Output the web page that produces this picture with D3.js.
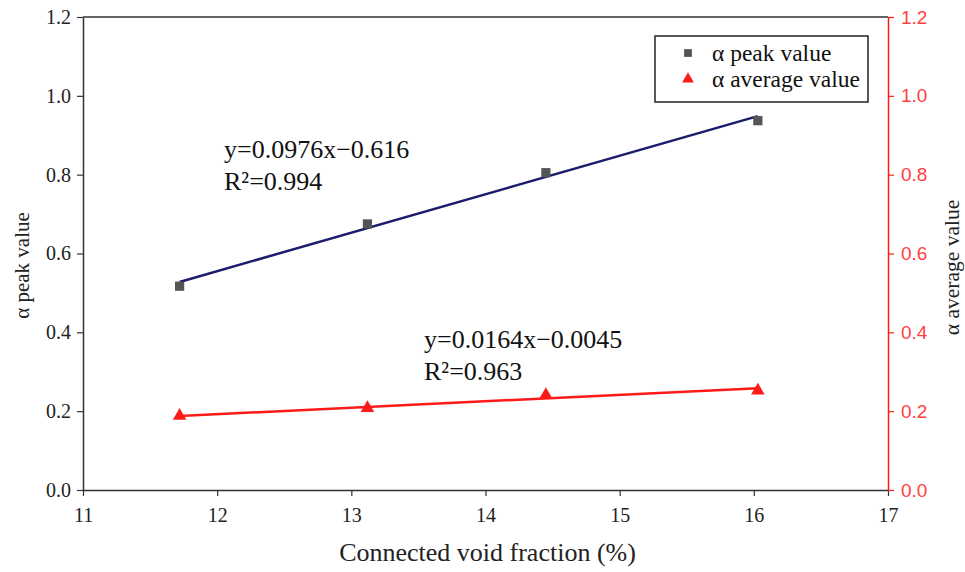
<!DOCTYPE html>
<html>
<head>
<meta charset="utf-8">
<script src="https://cdn.jsdelivr.net/npm/d3@7"></script>
<style>
  body { margin: 0; background: #fff; }
  text { font-family: "Liberation Serif", "DejaVu Serif", serif; }
</style>
</head>
<body>
<svg id="chart" width="965" height="572"></svg>
<script>
// data
const voidFraction = [11.72, 13.12, 14.45, 16.03];
const peakValues = [0.517, 0.675, 0.805, 0.937];
const averageValues = [0.188, 0.208, 0.241, 0.252];
const xTicks = [11, 12, 13, 14, 15, 16, 17];
const yTicks = [0, 0.2, 0.4, 0.6, 0.8, 1.0, 1.2];
const peakFit = { slope: 0.0976, intercept: -0.616, label: 'y=0.0976x\u22120.616', r2: 'R\u00b2=0.994' };
const avgFit = { slope: 0.0164, intercept: -0.0045, label: 'y=0.0164x\u22120.0045', r2: 'R\u00b2=0.963' };

const margin = { left: 83, right: 77, top: 17, bottom: 82 };
const width = 965, height = 572;
const svg = d3.select('#chart');

const x = d3.scaleLinear().domain([11, 17]).range([margin.left, width - margin.right]);
const yL = d3.scaleLinear().domain([0, 1.2]).range([height - margin.bottom, margin.top]);
const yR = d3.scaleLinear().domain([0, 1.2]).range([height - margin.bottom, margin.top]);

const axisColor = '#333';
const red = '#ff1a1a';
const serif = '"Liberation Serif", "DejaVu Serif", serif';

// top frame line
svg.append('line')
    .attr('x1', x(11)).attr('x2', x(17))
    .attr('y1', yL(1.2)).attr('y2', yL(1.2))
    .attr('stroke', axisColor).attr('stroke-width', 1.5);

// x axis
const gx = svg.append('g')
    .attr('transform', `translate(0,${yL(0)})`)
    .call(d3.axisBottom(x).tickValues(xTicks).tickFormat(d3.format('d')).tickSize(6).tickSizeOuter(0));

// left axis
const gy = svg.append('g')
    .attr('transform', `translate(${x(11)},0)`)
    .call(d3.axisLeft(yL).tickValues(yTicks).tickFormat(d3.format('.1f')).tickSize(6).tickSizeOuter(0));

[gx, gy].forEach(g => {
    g.attr('font-family', serif).attr('font-size', 20);
    g.select('.domain').attr('stroke', axisColor).attr('stroke-width', 1.5);
    g.selectAll('.tick line').attr('stroke', axisColor).attr('stroke-width', 1.2);
    g.selectAll('.tick text').attr('fill', '#222');
});
gx.selectAll('.tick text').attr('y', 18);
gy.selectAll('.tick text').attr('x', -12);

// right axis (red)
const gr = svg.append('g')
    .attr('transform', `translate(${x(17)},0)`)
    .call(d3.axisRight(yR).tickValues(yTicks).tickFormat(d3.format('.1f')).tickSize(6).tickSizeOuter(0));
gr.attr('font-family', '"Liberation Sans", Arial, sans-serif').attr('font-size', 19);
gr.select('.domain').attr('stroke', red).attr('stroke-width', 1.5);
gr.selectAll('.tick line').attr('stroke', red).attr('stroke-width', 1.2);
gr.selectAll('.tick text').attr('fill', '#ff4040').attr('x', 13)
    .style('font-family', '"Liberation Sans", Arial, sans-serif');

// axis titles
svg.append('text')
    .attr('x', (x(11) + x(17)) / 2 + 2).attr('y', 561)
    .attr('text-anchor', 'middle').style('font-size', '26px').attr('fill', '#222')
    .text('Connected void fraction (%)');

svg.append('text')
    .attr('transform', `translate(29,${(yL(0) + yL(1.2)) / 2 + 12}) rotate(-90)`)
    .attr('text-anchor', 'middle').style('font-size', '21px').attr('fill', '#222')
    .text('\u03b1 peak value');

svg.append('text')
    .attr('transform', `translate(959,${(yL(0) + yL(1.2)) / 2 + 14}) rotate(-90)`)
    .attr('text-anchor', 'middle').style('font-size', '21.5px').attr('fill', '#222')
    .text('\u03b1 average value');

// fit lines
const xMin = d3.min(voidFraction), xMax = d3.max(voidFraction);
const fitLine = (fit, scale) => d3.line()
    .x(d => x(d))
    .y(d => scale(fit.slope * d + fit.intercept))([xMin, xMax]);

svg.append('path').attr('d', fitLine(peakFit, yL))
    .attr('stroke', '#1c1c6c').attr('stroke-width', 2.5).attr('fill', 'none');
svg.append('path').attr('d', fitLine(avgFit, yR))
    .attr('stroke', red).attr('stroke-width', 2.5).attr('fill', 'none');

// markers
svg.selectAll('.peak')
    .data(voidFraction)
    .enter().append('path')
    .attr('class', 'peak')
    .attr('transform', (d, i) => `translate(${x(d)},${yL(peakValues[i])})`)
    .attr('d', d3.symbol(d3.symbolSquare, 85))
    .attr('fill', '#555');

svg.selectAll('.avg')
    .data(voidFraction)
    .enter().append('path')
    .attr('class', 'avg')
    .attr('transform', (d, i) => `translate(${x(d)},${yR(averageValues[i])})`)
    .attr('d', d3.symbol(d3.symbolTriangle, 80))
    .attr('fill', red);

// equations
const eq = [
    { fit: peakFit, x: 224, y: 158 },
    { fit: avgFit, x: 424, y: 348 }
];
eq.forEach(e => {
    svg.append('text').attr('x', e.x).attr('y', e.y).style('font-size', '26px').attr('fill', '#111').text(e.fit.label);
    svg.append('text').attr('x', e.x).attr('y', e.y + 32).style('font-size', '26px').attr('fill', '#111').text(e.fit.r2);
});

// legend
const legend = svg.append('g').attr('transform', 'translate(655,36)');
legend.append('rect').attr('width', 213).attr('height', 66)
    .attr('fill', '#fff').attr('stroke', '#222').attr('stroke-width', 1.5);
const legendItems = [
    { label: '\u03b1 peak value', symbol: d3.symbolSquare, color: '#555' },
    { label: '\u03b1 average value', symbol: d3.symbolTriangle, color: red }
];
const li = legend.selectAll('.li')
    .data(legendItems)
    .enter().append('g')
    .attr('transform', (d, i) => `translate(0,${17 + i * 26})`);
li.append('path')
    .attr('transform', 'translate(33,0)')
    .attr('d', d => d3.symbol(d.symbol, 60)())
    .attr('fill', d => d.color);
li.append('text').attr('x', 57).attr('y', 8)
    .style('font-size', '23.5px').attr('fill', '#111')
    .text(d => d.label);
</script>
</body>
</html>
